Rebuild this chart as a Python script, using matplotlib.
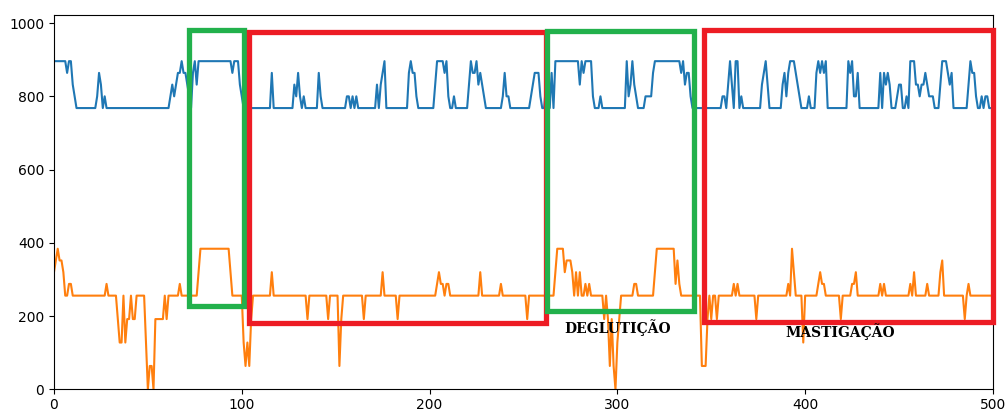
import numpy as np
import matplotlib
matplotlib.use("Agg")
import matplotlib.pyplot as plt
from matplotlib.patches import Rectangle

# sensor readings, stored as (value, repeat count) runs
blue_runs = [
    (896, 7), (864, 1), (896, 2), (832, 1), (800, 1), (768, 11), (800, 1), (864, 1),
    (832, 1), (768, 1), (800, 1), (768, 34), (800, 1), (832, 1), (800, 1), (832, 1),
    (864, 2), (896, 1), (864, 2), (832, 1), (800, 1), (768, 1), (864, 1), (896, 1),
    (832, 1), (896, 18), (864, 1), (896, 3), (832, 1), (800, 1), (768, 15), (864, 1),
    (768, 11), (832, 1), (800, 1), (864, 1), (800, 1), (768, 1), (800, 1), (768, 7),
    (864, 1), (800, 1), (768, 13), (800, 2), (768, 1), (800, 1), (768, 1), (800, 1),
    (768, 10), (832, 1), (768, 1), (832, 1), (864, 1), (896, 1), (768, 12), (864, 1),
    (896, 1), (864, 2), (800, 1), (768, 9), (832, 1), (896, 4), (864, 1), (896, 1),
    (800, 1), (768, 2), (800, 1), (768, 7), (832, 1), (896, 1), (864, 2), (896, 1),
    (832, 1), (864, 1), (832, 1), (800, 1), (768, 9), (800, 1), (864, 1), (800, 2),
    (768, 11), (800, 1), (832, 1), (864, 3), (800, 1), (768, 2), (832, 1), (768, 2),
    (864, 1), (768, 1), (896, 13), (832, 1), (896, 1), (864, 1), (896, 4), (800, 1),
    (768, 3), (800, 1), (768, 13), (896, 1), (800, 1), (832, 1), (896, 1), (832, 1),
    (800, 1), (768, 4), (800, 4), (864, 1), (896, 14), (864, 1), (896, 1), (832, 1),
    (864, 2), (800, 1), (768, 16), (800, 2), (768, 1), (832, 1), (896, 1), (832, 1),
    (768, 1), (896, 2), (768, 1), (800, 1), (768, 10), (832, 1), (864, 1), (896, 1),
    (832, 1), (768, 7), (832, 1), (864, 1), (800, 1), (864, 1), (896, 3), (864, 1),
    (832, 1), (800, 1), (768, 4), (800, 1), (768, 3), (864, 1), (896, 1), (864, 1),
    (896, 1), (864, 1), (896, 1), (768, 11), (896, 1), (864, 1), (896, 1), (800, 2),
    (864, 1), (768, 11), (864, 1), (768, 1), (864, 1), (832, 1), (864, 1), (832, 1),
    (768, 3), (800, 1), (832, 2), (768, 2), (800, 1), (768, 1), (896, 3), (832, 2),
    (800, 1), (832, 2), (864, 1), (832, 1), (800, 3), (768, 3), (832, 1), (896, 3),
    (864, 1), (832, 1), (864, 1), (768, 8), (832, 1), (896, 1), (864, 2), (800, 1),
    (768, 2), (800, 1), (768, 1), (800, 2), (768, 2),
]

orange_runs = [
    (320, 1), (352, 1), (384, 1), (352, 2), (320, 1), (256, 2), (288, 2), (256, 18),
    (288, 1), (256, 5), (192, 1), (128, 2), (256, 1), (128, 1), (192, 2), (256, 1),
    (192, 2), (256, 5), (128, 1), (0, 1), (64, 2), (0, 1), (192, 5), (256, 1),
    (192, 1), (256, 6), (288, 1), (256, 9), (320, 1), (384, 16), (320, 1), (256, 6),
    (128, 1), (64, 1), (128, 1), (64, 1), (192, 1), (256, 10), (320, 1), (256, 18),
    (192, 1), (256, 10), (192, 1), (256, 5), (64, 1), (192, 1), (256, 11), (192, 1),
    (256, 9), (320, 1), (256, 7), (192, 1), (256, 20), (288, 1), (320, 1), (288, 2),
    (256, 1), (288, 2), (256, 16), (320, 1), (256, 10), (288, 1), (256, 13), (192, 1),
    (256, 14), (320, 1), (384, 4), (320, 1), (352, 3), (320, 1), (256, 1), (320, 1),
    (256, 1), (320, 1), (256, 2), (288, 1), (256, 1), (288, 1), (256, 7), (192, 1),
    (256, 1), (192, 1), (64, 1), (192, 1), (64, 1), (0, 1), (128, 1), (192, 1),
    (256, 7), (288, 2), (256, 9), (320, 1), (384, 10), (288, 1), (352, 1), (288, 1),
    (256, 11), (64, 3), (192, 1), (256, 1), (192, 1), (256, 2), (192, 1), (256, 8),
    (288, 1), (256, 1), (288, 1), (256, 9), (192, 1), (256, 16), (288, 1), (256, 1),
    (384, 1), (320, 1), (256, 4), (128, 1), (256, 7), (288, 1), (320, 1), (288, 2),
    (256, 8), (192, 1), (256, 5), (288, 2), (320, 1), (256, 12), (288, 1), (256, 1),
    (288, 1), (256, 13), (288, 1), (256, 1), (320, 1), (256, 6), (288, 1), (256, 6),
    (320, 1), (352, 1), (256, 11), (192, 1), (256, 1), (288, 1), (256, 12),
]

# boxes drawn over the plot: (x0, x1, y0, y1, colour)
boxes = [
    (72, 101, 228, 980, "#22b14c"),
    (104, 262, 180, 975, "#ed1c24"),
    (262.5, 341, 213, 977, "#22b14c"),
    (346, 500, 185, 982, "#ed1c24"),
]
labels = [("DEGLUTIÇÃO", 300, 170), ("MASTIGAÇÃO", 418.5, 157)]


def expand(runs):
    vals = []
    for v, n in runs:
        vals += [v] * n
    return np.array(vals)


blue = expand(blue_runs)
orange = expand(orange_runs)

fig = plt.figure(figsize=(10.05, 4.11), dpi=100)
ax = fig.add_axes([0.0537, 0.0525, 0.9343, 0.911])

ax.plot(np.arange(len(blue)), blue, color="#1f77b4", lw=1.5)
ax.plot(np.arange(len(orange)), orange, color="#ff7f0e", lw=1.5)

for x0, x1, y0, y1, c in boxes:
    ax.add_patch(Rectangle((x0, y0), x1 - x0, y1 - y0, fill=False,
                           edgecolor=c, lw=3.8, zorder=5, clip_on=False))

for txt, x, y in labels:
    ax.text(x, y, txt, ha="center", va="center", fontsize=10,
            family="DejaVu Serif", fontweight="bold", zorder=6)

ax.set_xlim(0, 500)
ax.set_ylim(0, 1022)
ax.set_xticks(range(0, 501, 100))
ax.set_yticks(range(0, 1001, 200))
ax.tick_params(axis="x", pad=2.5)

fig.savefig("out.png", dpi=100)
